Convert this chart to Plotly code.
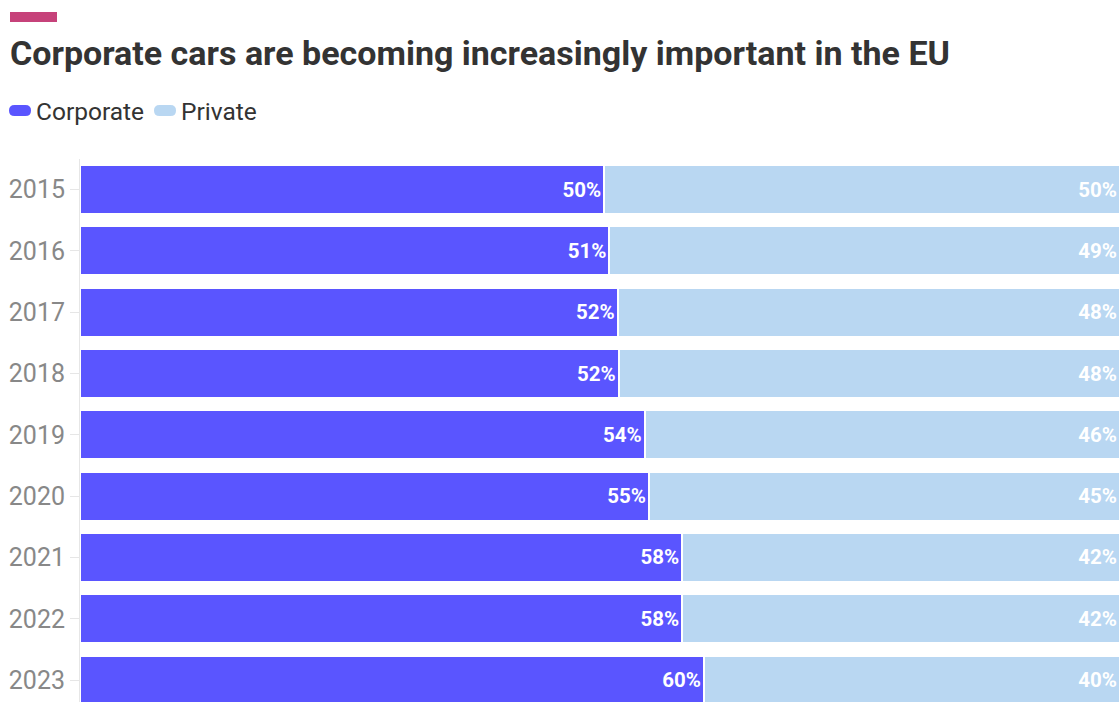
import plotly.graph_objects as go

years = ["2015", "2016", "2017", "2018", "2019", "2020", "2021", "2022", "2023"]
corporate = [50.4, 50.9, 51.7, 51.8, 54.3, 54.7, 57.9, 57.9, 60.0]
private = [49.6, 49.1, 48.3, 48.2, 45.7, 45.3, 42.1, 42.1, 40.0]

W, H = 1120, 702
ML, MR, MT, MB = 80, 0, 159, 0
PW, PH = W - ML - MR, H - MT - MB


def px(x):
    return (x - ML) / PW


def py(y):
    return (H - MB - y) / PH


fig = go.Figure()
fig.add_trace(go.Bar(
    y=years, x=corporate, orientation="h", name="Corporate",
    marker=dict(color="#5a55ff", line=dict(color="white", width=2)),
    text=[f"{round(v)}%" for v in corporate], textposition="inside",
    insidetextanchor="end",
    textfont=dict(family="Roboto", size=20.5, color="white", weight="bold"),
))
fig.add_trace(go.Bar(
    y=years, x=private, orientation="h", name="Private",
    marker=dict(color="#b9d7f2", line=dict(color="white", width=2)),
    text=[f"{round(v)}%" for v in private], textposition="inside",
    insidetextanchor="end",
    textfont=dict(family="Roboto", size=20.5, color="white", weight="bold"),
))

n = len(years)
fig.update_layout(
    width=W, height=H, barmode="stack", bargap=0.2,
    margin=dict(l=ML, r=MR, t=MT, b=MB),
    paper_bgcolor="white", plot_bgcolor="white",
    showlegend=False,
    font=dict(family="Roboto", color="#333"),
    xaxis=dict(range=[0, 100], visible=False),
    yaxis=dict(
        type="category", range=[(H - MT) / 61.3 - 0.5, -0.5],
        showline=True, linecolor="#e6e6e6", linewidth=1,
        ticks="outside", ticklen=9, tickcolor="#e6e6e6",
        tickfont=dict(family="Roboto", size=25, color="#888888"),
        showgrid=True, gridcolor="#ececec", zeroline=False,
    ),
    uniformtext=dict(mode=False),
)

shapes = [
    dict(type="rect", xref="paper", yref="paper",
         x0=px(10), x1=px(57), y0=py(22), y1=py(12),
         fillcolor="#c6427a", line=dict(width=0)),
]


def pill(x0, x1, y0, y1, color):
    r = (y1 - y0) / 2
    pts = (f"M {px(x0 + r)},{py(y0)} L {px(x1 - r)},{py(y0)} "
           f"Q {px(x1)},{py(y0)} {px(x1)},{py(y0 + r)} "
           f"Q {px(x1)},{py(y1)} {px(x1 - r)},{py(y1)} "
           f"L {px(x0 + r)},{py(y1)} "
           f"Q {px(x0)},{py(y1)} {px(x0)},{py(y0 + r)} "
           f"Q {px(x0)},{py(y0)} {px(x0 + r)},{py(y0)} Z")
    return dict(type="path", xref="paper", yref="paper", path=pts,
                fillcolor=color, line=dict(width=0))


shapes.append(pill(9, 31, 105, 116, "#5a55ff"))
shapes.append(pill(154, 176, 105, 116, "#b9d7f2"))
fig.update_layout(shapes=shapes)

fig.add_annotation(
    text="<b>Corporate cars are becoming increasingly important in the EU</b>",
    xref="paper", yref="paper", x=px(8), y=py(53), xanchor="left", yanchor="middle",
    showarrow=False, font=dict(family="Roboto", size=34, color="#333333"),
)
fig.add_annotation(
    text="Corporate", xref="paper", yref="paper", x=px(34), y=py(111),
    xanchor="left", yanchor="middle", showarrow=False,
    font=dict(family="Roboto", size=24.5, color="#333333"),
)
fig.add_annotation(
    text="Private", xref="paper", yref="paper", x=px(179), y=py(111),
    xanchor="left", yanchor="middle", showarrow=False,
    font=dict(family="Roboto", size=24.5, color="#333333"),
)

fig.write_html("out.html")
